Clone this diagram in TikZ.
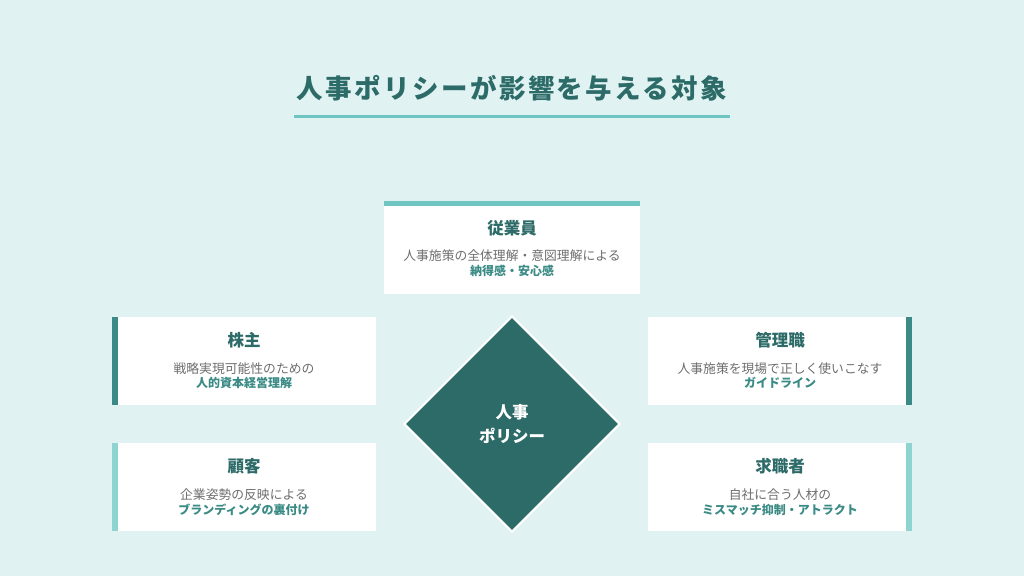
\documentclass[tikz,border=0pt]{standalone}
\usepackage{fontspec}
\setmainfont{Noto Sans CJK JP}
\newfontfamily\titlefont[LetterSpace=9]{Noto Sans CJK JP}
\usetikzlibrary{shapes.geometric}
\definecolor{bgc}{HTML}{E0F2F2}
\definecolor{dteal}{HTML}{2D6B68}
\definecolor{mteal}{HTML}{3A8A85}
\definecolor{lteal}{HTML}{6EC5C1}
\definecolor{pteal}{HTML}{8ED5D2}
\definecolor{grayt}{HTML}{6E6E6E}
\tikzset{
  card/.style={rectangle, fill=white, inner sep=0pt, minimum width=264pt, minimum height=88pt},
  cardtitle/.style={font=\fontsize{16.5}{18}\selectfont\bfseries, text=dteal, inner sep=0pt},
  carddesc/.style={font=\fontsize{12.8}{14}\selectfont, text=grayt, inner sep=0pt},
  cardhl/.style={font=\fontsize{12}{14}\selectfont\bfseries, text=mteal, inner sep=0pt},
}
\begin{document}
\begin{tikzpicture}[x=1pt,y=-1pt]
\fill[bgc] (0,0) rectangle (1024,576);
\useasboundingbox (0,0) rectangle (1024,576);
% title
\node[font=\titlefont\fontsize{26.5}{30}\selectfont\bfseries, text=dteal, inner sep=0pt] (title) at (512,88) {人事ポリシーが影響を与える対象};
\coordinate (ulL) at (294,116);
\coordinate (ulR) at (730,116);
\draw[lteal, line width=3pt] (ulL) -- (ulR);
% top card
\node[card, minimum width=256pt, minimum height=93pt] (emp) at (512,247.5) {};
\fill[lteal] (emp.north west) rectangle ([yshift=-5pt]emp.north east);
\node[cardtitle] (empT) at (512,228) {従業員};
\node[carddesc] (empD) at (512,256) {人事施策の全体理解・意図理解による};
\node[cardhl] (empH) at (512,271) {納得感・安心感};
% left top
\node[card] (sh) at (244,361) {};
\fill[mteal] (sh.north west) rectangle ([xshift=6pt]sh.south west);
\node[cardtitle] (shT) at (244,340) {株主};
\node[carddesc] (shD) at (244,369) {戦略実現可能性のための};
\node[cardhl] (shH) at (244,383) {人的資本経営理解};
% right top
\node[card] (mg) at (780,361) {};
\fill[mteal] ([xshift=-6pt]mg.north east) rectangle (mg.south east);
\node[cardtitle] (mgT) at (780,340) {管理職};
\node[carddesc] (mgD) at (780,369) {人事施策を現場で正しく使いこなす};
\node[cardhl] (mgH) at (780,383) {ガイドライン};
% left bottom
\node[card] (cu) at (244,487) {};
\fill[pteal] (cu.north west) rectangle ([xshift=6pt]cu.south west);
\node[cardtitle] (cuT) at (244,466) {顧客};
\node[carddesc] (cuD) at (244,495) {企業姿勢の反映による};
\node[cardhl] (cuH) at (244,510) {ブランディングの裏付け};
% right bottom
\node[card] (jb) at (780,487) {};
\fill[pteal] ([xshift=-6pt]jb.north east) rectangle (jb.south east);
\node[cardtitle] (jbT) at (780,466) {求職者};
\node[carddesc] (jbD) at (780,495) {自社に合う人材の};
\node[cardhl] (jbH) at (780,510) {ミスマッチ抑制・アトラクト};
% diamond
\node[diamond, minimum width=216pt, minimum height=216pt, inner sep=0pt, fill=dteal, draw=white, line width=2pt] (hr) at (512,424) {};
\node[font=\fontsize{16.5}{24}\selectfont\bfseries, text=white, align=center, inner sep=0pt] (hrT) at (512,424) {人事\\ポリシー};
\end{tikzpicture}
\end{document}
